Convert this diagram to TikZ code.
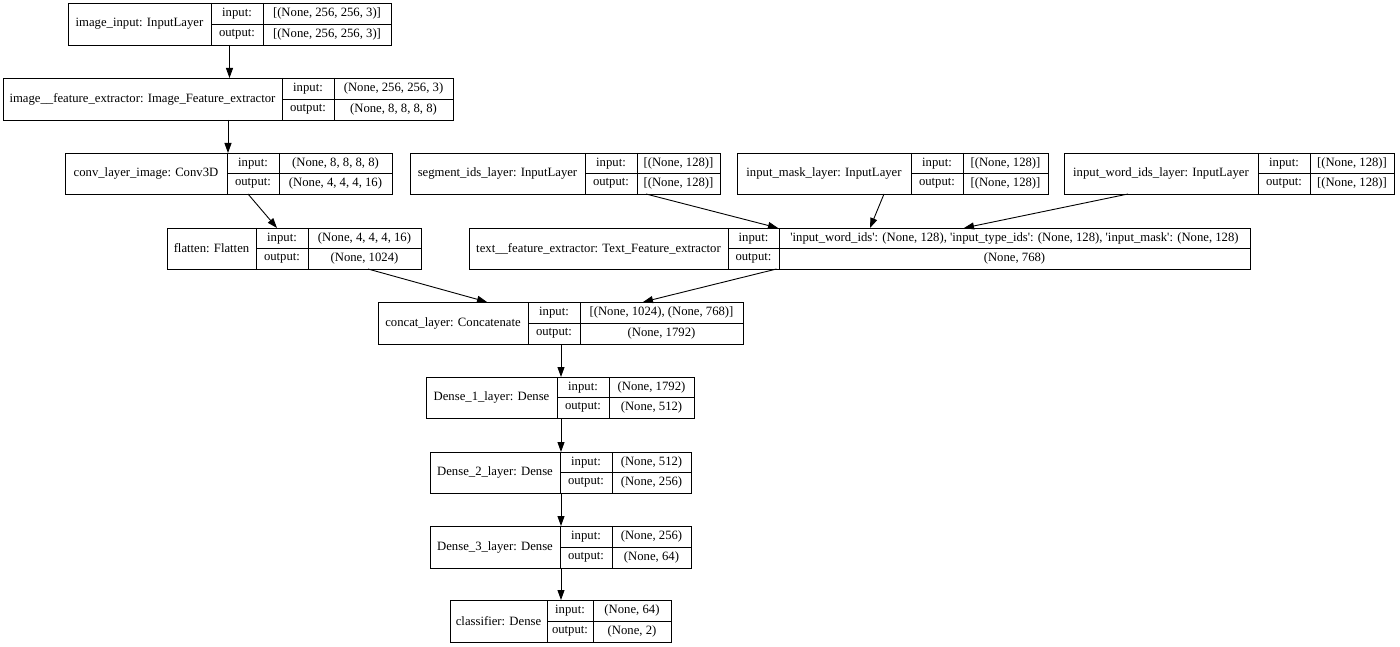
\documentclass[tikz,border=0pt]{standalone}
\usepackage{fontspec}
\setmainfont{Liberation Serif}
\usetikzlibrary{arrows.meta}
\tikzset{
  box/.style={draw, line width=0.9pt, inner sep=0pt, outer sep=0pt, rectangle},
  sep/.style={line width=0.9pt},
  lbl/.style={inner sep=0pt, font=\fontsize{12.7}{14}\selectfont},
  arr/.style={line width=0.9pt, -{Triangle[length=10pt,width=7pt]}},
}
% #1 id, #2 left, #3 top, #4 right, #5 bottom, #6 div1, #7 div2, #8 name, #9 input, #10 output
\newcommand\kerasLayer[9]{%
  \node[box, minimum width={#4-#2}, minimum height={#5-#3}] (#1) at ({(#2+#4)/2},{(#3+#5)/2}) {};
  \draw[sep] (#6,#3) -- (#6,#5);
  \draw[sep] (#7,#3) -- (#7,#5);
  \draw[sep] (#6,{(#3+#5)/2}) -- (#4,{(#3+#5)/2});
  \node[lbl] at ({(#2+#6)/2},{(#3+#5)/2}) {#8};
  \node[lbl] at ({(#6+#7)/2},{(3*#3+#5)/4}) {input:};
  \node[lbl] at ({(#6+#7)/2},{(#3+3*#5)/4}) {output:};
  \node[lbl] at ({(#7+#4)/2},{(3*#3+#5)/4}) {#9};
  \kerasOut
}
\newcommand\kerasOutText{}
\begin{document}
\begin{tikzpicture}[x=1pt,y=-1pt]
\useasboundingbox (0,0) rectangle (1400,647);
\newcommand\lay[9]{%
  \def\kerasOut{\node[lbl] at ({(#7+#4)/2},{(#3+3*#5)/4}) {\kerasOutText};}%
  \kerasLayer{#1}{#2}{#3}{#4}{#5}{#6}{#7}{#8}{#9}}
\def\q{\textquotesingle}
% image_input
\def\kerasOutText{[(None, 256, 256, 3)]}
\lay{in1}{68}{3}{391}{45}{211}{263}{image\_input: InputLayer}{[(None, 256, 256, 3)]}
\def\kerasOutText{(None, 8, 8, 8, 8)}
\lay{imgfe}{3}{78}{453}{120}{282}{334}{image\_\_feature\_extractor: Image\_Feature\_extractor}{(None, 256, 256, 3)}
\def\kerasOutText{(None, 4, 4, 4, 16)}
\lay{conv}{65}{153}{392}{194}{227}{279}{conv\_layer\_image: Conv3D}{(None, 8, 8, 8, 8)}
\def\kerasOutText{(None, 1024)}
\lay{flat}{167}{228}{421}{269}{256}{308}{flatten: Flatten}{(None, 4, 4, 4, 16)}
\def\kerasOutText{[(None, 128)]}
\lay{seg}{410}{153}{720}{194}{585}{637}{segment\_ids\_layer: InputLayer}{[(None, 128)]}
\lay{mask}{737}{153}{1048}{194}{911}{963}{input\_mask\_layer: InputLayer}{[(None, 128)]}
\lay{word}{1064}{153}{1394}{194}{1258}{1310}{input\_word\_ids\_layer: InputLayer}{[(None, 128)]}
\def\kerasOutText{(None, 768)}
\lay{text}{469}{228}{1250}{269}{728}{779}{text\_\_feature\_extractor: Text\_Feature\_extractor}{\q input\_word\_ids\q: (None, 128), \q input\_type\_ids\q: (None, 128), \q input\_mask\q: (None, 128)}
\def\kerasOutText{(None, 1792)}
\lay{concat}{378}{302}{743}{344}{528}{580}{concat\_layer: Concatenate}{[(None, 1024), (None, 768)]}
\def\kerasOutText{(None, 512)}
\lay{d1}{426}{377}{694}{418}{557}{609}{Dense\_1\_layer: Dense}{(None, 1792)}
\def\kerasOutText{(None, 256)}
\lay{d2}{430}{452}{691}{493}{560}{612}{Dense\_2\_layer: Dense}{(None, 512)}
\def\kerasOutText{(None, 64)}
\lay{d3}{430}{526}{691}{568}{560}{612}{Dense\_3\_layer: Dense}{(None, 256)}
\def\kerasOutText{(None, 2)}
\lay{cls}{450}{600}{671}{642}{547}{593}{classifier: Dense}{(None, 64)}
% connectors
\draw[arr] (in1.south) -- (in1.south |- imgfe.north);
\draw[arr] (imgfe.south) -- (imgfe.south |- conv.north);
\draw[arr] ([xshift=19.5pt]conv.south) -- ([xshift=-17pt]flat.north);
\draw[arr] ([xshift=81pt]seg.south) -- ([xshift=-81.5pt]text.north);
\draw[arr] ([xshift=-8.5pt]mask.south) -- ([xshift=10.5pt]text.north);
\draw[arr] ([xshift=-101pt]word.south) -- ([xshift=104.5pt]text.north);
\draw[arr] ([xshift=74pt]flat.south) -- ([xshift=-73.5pt]concat.north);
\draw[arr] ([xshift=-83pt]text.south) -- ([xshift=82.5pt]concat.north);
\draw[arr] ([xshift=0.5pt]concat.south) -- ([xshift=0.5pt]concat.south |- d1.north);
\draw[arr] ([xshift=1pt]d1.south) -- ([xshift=1pt]d1.south |- d2.north);
\draw[arr] ([xshift=0.5pt]d2.south) -- ([xshift=0.5pt]d2.south |- d3.north);
\draw[arr] ([xshift=0.5pt]d3.south) -- ([xshift=0.5pt]d3.south |- cls.north);
\end{tikzpicture}
\end{document}
